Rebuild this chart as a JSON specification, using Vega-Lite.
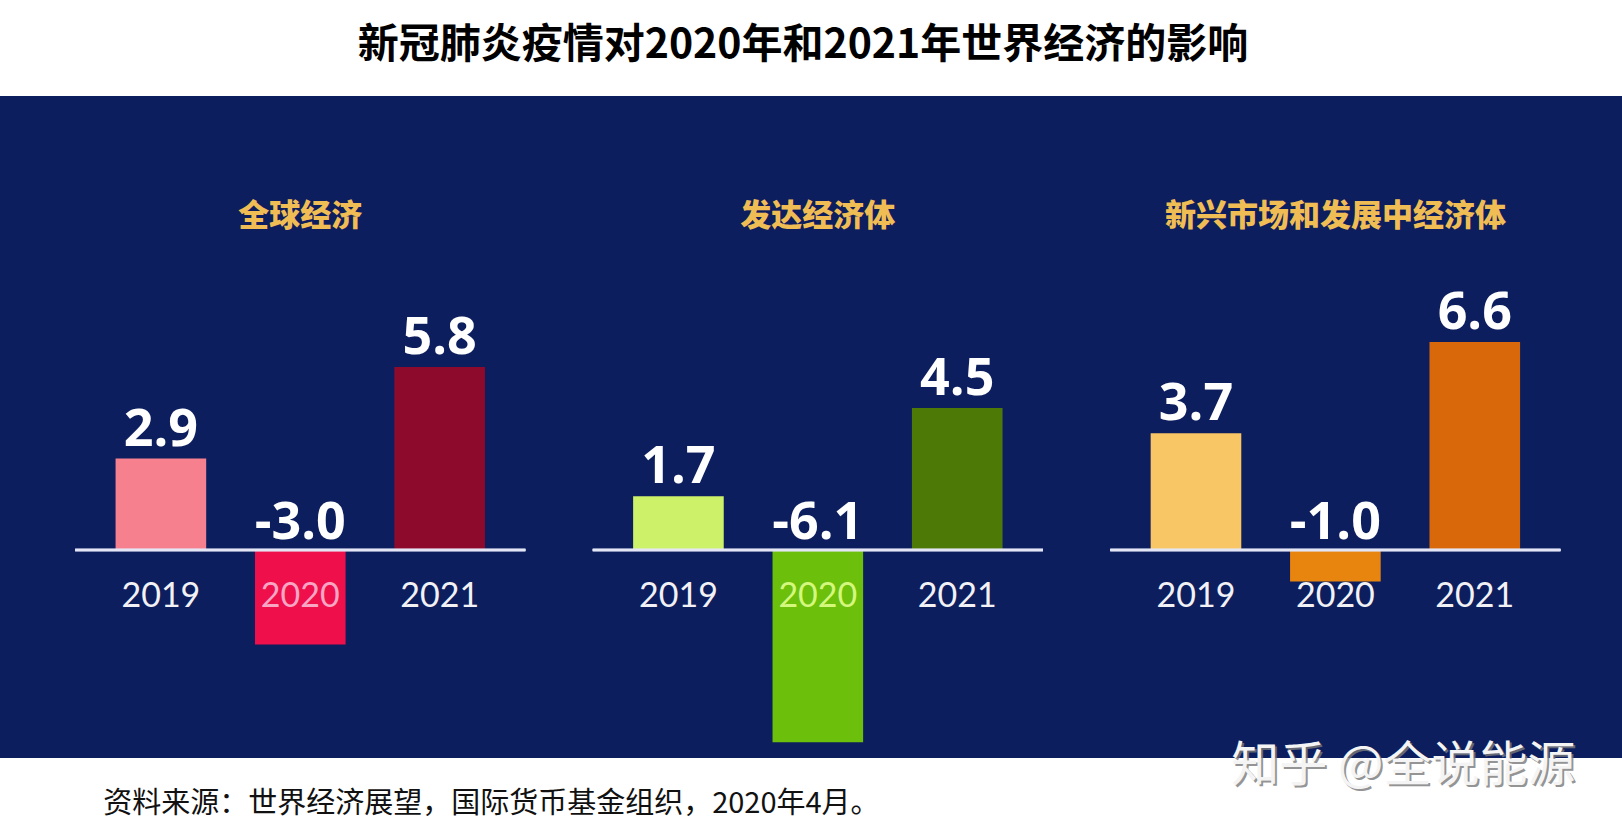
{
  "$schema": "https://vega.github.io/schema/vega-lite/v6.json",
  "width": 1622,
  "height": 662,
  "autosize": {"type": "none"},
  "padding": {"top": 96, "bottom": 78, "left": 0, "right": 0},
  "background": "white",
  "view": {"fill": "#0d1e5f", "stroke": null},
  "config": {
    "locale": {"number": {"decimal": ".", "thousands": ",", "grouping": [3], "currency": ["", ""], "minus": "-"}}
  },
  "title": {
    "text": "新冠肺炎疫情对2020年和2021年世界经济的影响",
    "font": "Noto Sans CJK SC",
    "fontSize": 41,
    "fontWeight": "bold",
    "color": "#000000",
    "anchor": "middle",
    "frame": "group",
    "offset": 29,
    "dx": -8
  },
  "data": {
    "values": [
      {"region": "全球经济", "year": "2019", "series": "全球经济 2019", "value": 2.9},
      {"region": "全球经济", "year": "2020", "series": "全球经济 2020", "value": -3.0},
      {"region": "全球经济", "year": "2021", "series": "全球经济 2021", "value": 5.8},
      {"region": "发达经济体", "year": "2019", "series": "发达经济体 2019", "value": 1.7},
      {"region": "发达经济体", "year": "2020", "series": "发达经济体 2020", "value": -6.1},
      {"region": "发达经济体", "year": "2021", "series": "发达经济体 2021", "value": 4.5},
      {"region": "新兴市场和发展中经济体", "year": "2019", "series": "新兴市场和发展中经济体 2019", "value": 3.7},
      {"region": "新兴市场和发展中经济体", "year": "2020", "series": "新兴市场和发展中经济体 2020", "value": -1.0},
      {"region": "新兴市场和发展中经济体", "year": "2021", "series": "新兴市场和发展中经济体 2021", "value": 6.6}
    ]
  },
  "layer": [
    {
      "mark": {"type": "bar"},
      "encoding": {
        "x": {
          "field": "region", "type": "nominal",
          "sort": ["全球经济", "发达经济体", "新兴市场和发展中经济体"],
          "scale": {"paddingInner": 0.13, "paddingOuter": 0.132, "align": 0.55},
          "axis": null
        },
        "xOffset": {"field": "year", "type": "nominal", "scale": {"paddingInner": 0.35, "paddingOuter": 0.29}},
        "y": {"field": "value", "type": "quantitative", "scale": {"domain": [-6.6, 14.4], "nice": false, "zero": false}, "axis": null},
        "color": {
          "field": "series", "type": "nominal", "legend": null,
          "scale": {
            "domain": ["全球经济 2019", "全球经济 2020", "全球经济 2021", "发达经济体 2019", "发达经济体 2020", "发达经济体 2021", "新兴市场和发展中经济体 2019", "新兴市场和发展中经济体 2020", "新兴市场和发展中经济体 2021"],
            "range": ["#f7808f", "#ef0f4a", "#8e0a2c", "#cdf26a", "#6cbf0a", "#4d7a06", "#f8c664", "#e8850e", "#d9680a"]
          }
        }
      }
    },
    {
      "mark": {"type": "rule", "color": "#e4e6f6", "strokeWidth": 2.5},
      "encoding": {
        "x": {"field": "region", "type": "nominal", "sort": ["全球经济", "发达经济体", "新兴市场和发展中经济体"], "bandPosition": 0, "axis": null},
        "x2": {"field": "region", "bandPosition": 1},
        "y": {"datum": 0, "type": "quantitative", "scale": {"domain": [-6.6, 14.4], "nice": false, "zero": false}, "axis": null}
      }
    },
    {
      "transform": [{"filter": "datum.value >= 0"}],
      "mark": {"type": "text", "font": "Open Sans", "fontSize": 52, "fontWeight": 700, "color": "#ffffff", "baseline": "bottom", "dy": -2},
      "encoding": {
        "x": {"field": "region", "type": "nominal", "sort": ["全球经济", "发达经济体", "新兴市场和发展中经济体"], "axis": null},
        "xOffset": {"field": "year", "type": "nominal"},
        "y": {"field": "value", "type": "quantitative", "scale": {"domain": [-6.6, 14.4], "nice": false, "zero": false}, "axis": null},
        "text": {"field": "value", "type": "quantitative", "format": ".1f"}
      }
    },
    {
      "transform": [{"filter": "datum.value < 0"}],
      "mark": {"type": "text", "font": "Open Sans", "fontSize": 52, "fontWeight": 700, "color": "#ffffff", "baseline": "bottom", "dy": 0},
      "encoding": {
        "x": {"field": "region", "type": "nominal", "sort": ["全球经济", "发达经济体", "新兴市场和发展中经济体"], "axis": null},
        "xOffset": {"field": "year", "type": "nominal"},
        "y": {"datum": 0, "type": "quantitative", "scale": {"domain": [-6.6, 14.4], "nice": false, "zero": false}, "axis": null},
        "text": {"field": "value", "type": "quantitative", "format": ".1f"}
      }
    },
    {
      "mark": {"type": "text", "font": "Lato", "fontSize": 34, "baseline": "middle"},
      "encoding": {
        "x": {"field": "region", "type": "nominal", "sort": ["全球经济", "发达经济体", "新兴市场和发展中经济体"], "axis": null},
        "xOffset": {"field": "year", "type": "nominal"},
        "y": {"datum": -1.5, "type": "quantitative", "scale": {"domain": [-6.6, 14.4], "nice": false, "zero": false}, "axis": null},
        "text": {"field": "year", "type": "nominal"},
        "color": {
          "condition": [
            {"test": "datum.region === '全球经济' && datum.year === '2020'", "value": "#f9a6c4"},
            {"test": "datum.region === '发达经济体' && datum.year === '2020'", "value": "#d4f77e"}
          ],
          "value": "#f2f2f6"
        }
      }
    },
    {
      "transform": [{"filter": "datum.year === '2019'"}],
      "mark": {"type": "text", "font": "Noto Sans CJK SC", "fontSize": 31, "fontWeight": 900, "color": "#f0bd55", "baseline": "middle"},
      "encoding": {
        "x": {"field": "region", "type": "nominal", "sort": ["全球经济", "发达经济体", "新兴市场和发展中经济体"], "axis": null},
        "y": {"datum": 10.55, "type": "quantitative", "scale": {"domain": [-6.6, 14.4], "nice": false, "zero": false}, "axis": null},
        "text": {"field": "region", "type": "nominal"}
      }
    },
    {
      "data": {"values": [{"note": "资料来源：世界经济展望，国际货币基金组织，2020年4月。", "region": "全球经济"}]},
      "mark": {"type": "text", "font": "Noto Sans CJK SC", "fontSize": 29, "color": "#111111", "align": "left", "baseline": "middle", "dx": 28},
      "encoding": {
        "x": {"field": "region", "type": "nominal", "sort": ["全球经济", "发达经济体", "新兴市场和发展中经济体"], "bandPosition": 0, "axis": null},
        "y": {"datum": -8.05, "type": "quantitative", "scale": {"domain": [-6.6, 14.4], "nice": false, "zero": false}, "axis": null},
        "text": {"field": "note", "type": "nominal"}
      }
    },
    {
      "data": {"values": [{"mark": "知乎 @全说能源", "region": "新兴市场和发展中经济体"}]},
      "mark": {"type": "text", "font": "Noto Sans CJK SC", "fontSize": 48, "color": "#7a7a7a", "opacity": 0.8, "baseline": "middle", "dx": 70, "dy": 2},
      "encoding": {
        "x": {"field": "region", "type": "nominal", "sort": ["全球经济", "发达经济体", "新兴市场和发展中经济体"], "axis": null},
        "y": {"datum": -6.9, "type": "quantitative", "scale": {"domain": [-6.6, 14.4], "nice": false, "zero": false}, "axis": null},
        "text": {"field": "mark", "type": "nominal"}
      }
    },
    {
      "data": {"values": [{"mark": "知乎 @全说能源", "region": "新兴市场和发展中经济体"}]},
      "mark": {"type": "text", "font": "Noto Sans CJK SC", "fontSize": 48, "color": "#f4f4f4", "baseline": "middle", "dx": 68},
      "encoding": {
        "x": {"field": "region", "type": "nominal", "sort": ["全球经济", "发达经济体", "新兴市场和发展中经济体"], "axis": null},
        "y": {"datum": -6.9, "type": "quantitative", "scale": {"domain": [-6.6, 14.4], "nice": false, "zero": false}, "axis": null},
        "text": {"field": "mark", "type": "nominal"}
      }
    }
  ]
}
